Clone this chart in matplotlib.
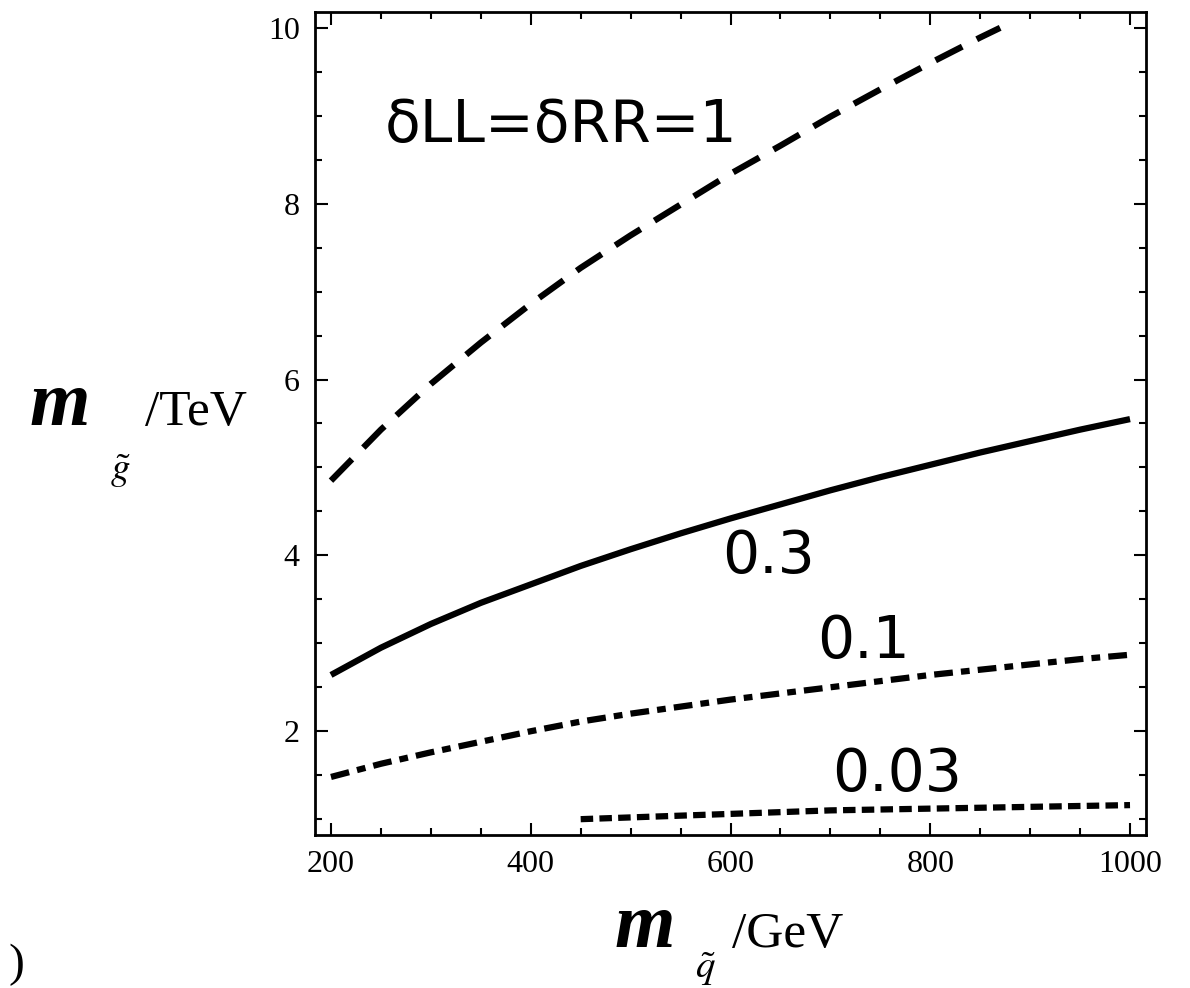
import matplotlib
matplotlib.use("Agg")
import matplotlib.pyplot as plt
from matplotlib.ticker import MultipleLocator

# ---- data ----
x_d1 = [200, 250, 300, 350, 400, 450, 500, 550, 600, 650, 700, 750, 800, 850, 870]
y_d1 = [4.85, 5.43, 5.95, 6.42, 6.86, 7.27, 7.64, 7.99, 8.34, 8.66, 8.99, 9.30, 9.60, 9.89, 10.0]

x_d03 = [200, 250, 300, 350, 400, 450, 500, 550, 600, 650, 700, 750, 800, 850, 900, 950, 1000]
y_d03 = [2.64, 2.95, 3.22, 3.46, 3.67, 3.88, 4.07, 4.25, 4.42, 4.58, 4.74, 4.89, 5.03, 5.17, 5.30, 5.43, 5.55]

x_d01 = [200, 250, 300, 350, 400, 450, 500, 550, 600, 650, 700, 750, 800, 850, 900, 950, 1000]
y_d01 = [1.48, 1.63, 1.76, 1.88, 2.00, 2.11, 2.20, 2.28, 2.36, 2.43, 2.50, 2.57, 2.64, 2.70, 2.76, 2.82, 2.87]

x_d003 = [450, 500, 550, 600, 650, 700, 750, 800, 850, 900, 950, 1000]
y_d003 = [1.00, 1.02, 1.04, 1.06, 1.08, 1.10, 1.11, 1.12, 1.13, 1.14, 1.15, 1.16]

curve_labels = ["δLL=δRR=1", "0.3", "0.1", "0.03"]
x_ticks = [200, 400, 600, 800, 1000]
y_ticks = [2, 4, 6, 8, 10]

fig = plt.figure(figsize=(11.9, 9.88), dpi=100)
ax = fig.add_axes([315/1190, 1 - 835/988, (1146-315)/1190, (835-12)/988])

lw = 4.5
ax.plot(x_d1, y_d1, color="black", lw=lw, dashes=(4.8, 2.6), solid_capstyle="butt")
ax.plot(x_d03, y_d03, color="black", lw=lw, solid_capstyle="butt")
ax.plot(x_d01, y_d01, color="black", lw=lw, dashes=(3.0, 1.3, 1.4, 1.3))
ax.plot(x_d003, y_d003, color="black", lw=lw, dashes=(2.0, 1.0))

ax.set_xlim(184, 1016)
ax.set_ylim(0.82, 10.18)
ax.set_xticks(x_ticks)
ax.set_yticks(y_ticks)
ax.xaxis.set_minor_locator(MultipleLocator(50))
ax.yaxis.set_minor_locator(MultipleLocator(0.5))
ax.tick_params(which="both", direction="in", top=True, right=True, width=1.5, color="black")
ax.tick_params(which="major", length=9, labelsize=23, pad=11)
ax.tick_params(which="minor", length=5)
for lab in ax.get_xticklabels() + ax.get_yticklabels():
    lab.set_fontfamily("Liberation Serif")
for s in ax.spines.values():
    s.set_linewidth(2)

tfont = dict(family="DejaVu Sans", fontsize=42, color="black")
ax.text(254, 8.70, curve_labels[0], ha="left", va="baseline", **tfont)
ax.text(592, 3.80, curve_labels[1], ha="left", va="baseline", **tfont)
ax.text(687, 2.83, curve_labels[2], ha="left", va="baseline", **tfont)
ax.text(702, 1.32, curve_labels[3], ha="left", va="baseline", **tfont)

plt.rcParams["mathtext.fontset"] = "stix"

def px(x, y):
    return x / 1190, 1 - y / 988

# y axis label
fig.text(*px(30, 425), "m", family="Liberation Serif", style="italic", weight="bold",
         fontsize=56, ha="left", va="baseline")
fig.text(*px(110, 480), r"$\tilde{g}$", fontsize=28, ha="left", va="baseline")
fig.text(*px(145, 425), "/TeV", family="Liberation Serif", fontsize=37, ha="left", va="baseline")

# x axis label
fig.text(*px(615, 947), "m", family="Liberation Serif", style="italic", weight="bold",
         fontsize=56, ha="left", va="baseline")
fig.text(*px(695, 978), r"$\tilde{q}$", fontsize=28, ha="left", va="baseline")
fig.text(*px(732, 947), "/GeV", family="Liberation Serif", fontsize=37, ha="left", va="baseline")

# partial panel label at the bottom-left corner
fig.text(*px(8, 976), ")", family="Liberation Serif", fontsize=34, ha="left", va="baseline")

fig.savefig("out.png", dpi=100, facecolor="white")
